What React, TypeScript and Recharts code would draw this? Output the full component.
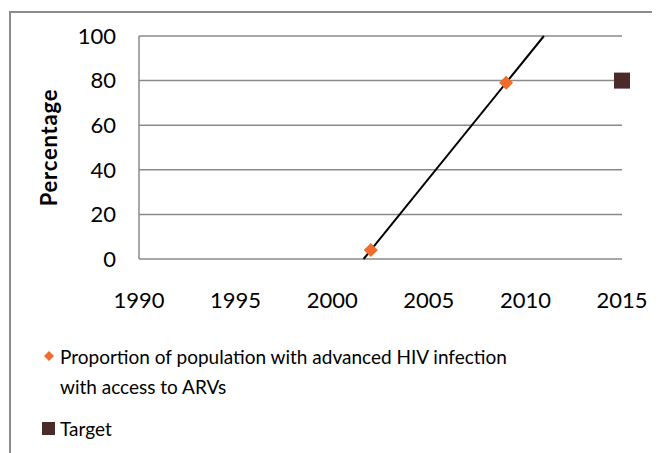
import React from 'react';
import { ComposedChart, Scatter, XAxis, YAxis, CartesianGrid, ReferenceLine } from 'recharts';

const years = [2002, 2009];
const access = [4, 79];
const targetYears = [2015];
const targetValues = [80];
const xTicks = [1990, 1995, 2000, 2005, 2010, 2015];
const yTicks = [0, 20, 40, 60, 80, 100];

const seriesName = 'Proportion of population with advanced HIV infection with access to ARVs';
const targetName = 'Target';

const Orange = '#F26B2C';
const Brown = '#4B2A2A';
const Grid = '#8A8A8A';
const Font = 'Lato, "Open Sans", sans-serif';

const accessData = years.map((x, i) => ({ x, y: access[i] }));
const targetData = targetYears.map((x, i) => ({ x, y: targetValues[i] }));

// linear trendline through the observed points, clipped to 0..100
function trend() {
    const n = accessData.length;
    const mx = accessData.reduce((s, d) => s + d.x, 0) / n;
    const my = accessData.reduce((s, d) => s + d.y, 0) / n;
    let num = 0;
    let den = 0;
    accessData.forEach(d => {
        num += (d.x - mx) * (d.y - my);
        den += (d.x - mx) * (d.x - mx);
    });
    const slope = num / den;
    const b = my - slope * mx;
    return [
        { x: (0 - b) / slope, y: 0 },
        { x: (100 - b) / slope, y: 100 },
    ];
}

const Diamond = (props: any) => {
    const { cx, cy } = props;
    const r = 7;
    return <polygon points={`${cx},${cy - r} ${cx + r},${cy} ${cx},${cy + r} ${cx - r},${cy}`} fill={Orange} />;
};

const Square = (props: any) => {
    const { cx, cy } = props;
    const s = 16;
    return <rect x={cx - s / 2} y={cy - s / 2} width={s} height={s} fill={Brown} />;
};

const LegendBox = () => (
    <div style={{ position: 'absolute', left: 42, top: 342, fontFamily: Font, fontSize: 19, color: '#000', lineHeight: '30px' }}>
        <div style={{ display: 'flex', alignItems: 'flex-start' }}>
            <svg width={14} height={30} style={{ flex: 'none', marginRight: 4 }}>
                <polygon points="7,9 12,14 7,19 2,14" fill={Orange} />
            </svg>
            <div style={{ width: 470 }}>{seriesName}</div>
        </div>
        <div style={{ display: 'flex', alignItems: 'center', marginTop: 12 }}>
            <svg width={14} height={30} style={{ flex: 'none', marginRight: 4 }}>
                <rect x={0} y={8} width={13} height={13} fill={Brown} />
            </svg>
            <div>{targetName}</div>
        </div>
    </div>
);

export default function App() {
    const seg = trend();
    return (
        <div style={{ position: 'relative', left: -8, top: -8, width: 660, height: 453, overflow: 'hidden', background: '#fff' }}>
            <div style={{ position: 'absolute', left: 9, top: 11, width: 700, height: 500, border: '2px solid #8C8C8C' }} />
            <ComposedChart
                width={660}
                height={453}
                margin={{ top: 36, right: 38, bottom: 154, left: 39 }}
                style={{ position: 'absolute', left: 0, top: 0, fontFamily: Font }}
            >
                <CartesianGrid horizontal={true} vertical={false} stroke={Grid} strokeWidth={1.5} />
                <XAxis
                    type="number"
                    dataKey="x"
                    domain={[1990, 2015]}
                    ticks={xTicks}
                    axisLine={false}
                    tickLine={false}
                    tickSize={0}
                    tickMargin={33}
                    height={40}
                    tick={{ fill: '#000', fontSize: 22 }}
                />
                <YAxis
                    type="number"
                    dataKey="y"
                    domain={[0, 100]}
                    ticks={yTicks}
                    axisLine={{ stroke: Grid, strokeWidth: 1.5 }}
                    tickLine={false}
                    tickSize={0}
                    tickMargin={23}
                    width={100}
                    tick={{ fill: '#000', fontSize: 22 }}
                    label={{
                        content: (p: any) => {
                            const vb = p.viewBox;
                            const cx = 48;
                            const cy = vb.y + vb.height / 2;
                            return (
                                <text x={cx} y={cy} transform={`rotate(-90 ${cx} ${cy})`} textAnchor="middle" dominantBaseline="central" fontWeight="bold" fontSize={22} letterSpacing={0.8} fill="#000" fontFamily={Font}>
                                    Percentage
                                </text>
                            );
                        },
                    }}
                />
                <ReferenceLine segment={seg} stroke="#000" strokeWidth={2} ifOverflow="visible" />
                <Scatter name={seriesName} data={accessData} fill={Orange} shape={Diamond} isAnimationActive={false} />
                <Scatter name={targetName} data={targetData} fill={Brown} shape={Square} isAnimationActive={false} />
            </ComposedChart>
            <LegendBox />
        </div>
    );
}
